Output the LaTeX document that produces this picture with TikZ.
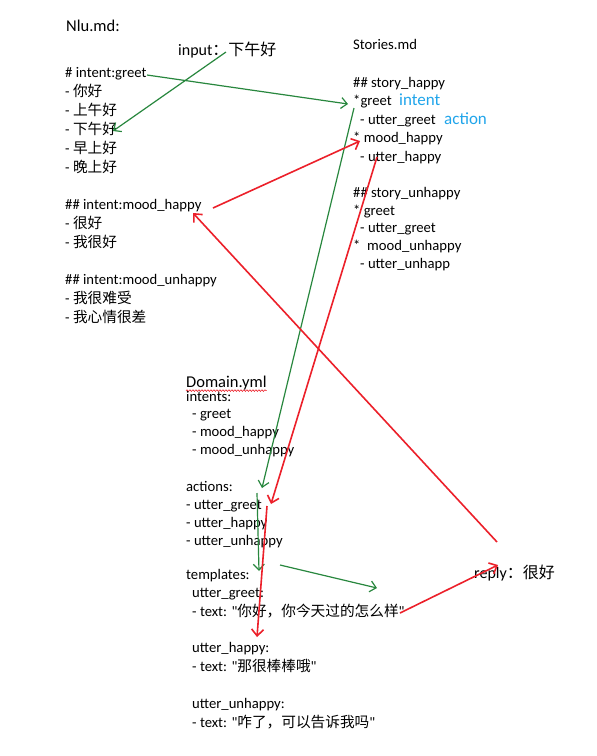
\documentclass[tikz,border=0pt]{standalone}
\usepackage{fontspec}
\setmainfont{Carlito}
\newfontfamily\lat{Carlito}
\newfontfamily\cjk{Noto Sans CJK SC}
\usetikzlibrary{arrows.meta,decorations.pathmorphing}
\newcommand\zh[1]{{\cjk #1}}
\definecolor{arrgreen}{RGB}{40,135,62}
\definecolor{arrred}{RGB}{236,32,42}
\definecolor{tagblue}{RGB}{32,165,235}
\tikzset{
  txtline/.style={anchor=base west, inner sep=0pt, font=\lat\fontsize{14.67}{18}\selectfont},
  heading/.style={anchor=base west, inner sep=0pt, font=\lat\fontsize{16.5}{20}\selectfont},
  tag/.style={anchor=base west, inner sep=0pt, text=tagblue, font=\lat\fontsize{17}{20}\selectfont},
  garrow/.style={draw=arrgreen, line width=1.2pt, -{Straight Barb[length=6pt,width=11pt]}},
  rarrow/.style={draw=arrred, line width=1.6pt, -{Straight Barb[length=6.5pt,width=12pt]}},
  spell/.style={draw=arrred, line width=0.6pt, decorate,
    decoration={snake, amplitude=0.8pt, segment length=3pt}}
}
\begin{document}
\begin{tikzpicture}[x=1pt,y=-1pt]
\fill[white] (0,0) rectangle (597,756);
\useasboundingbox (0,0) rectangle (597,756);

% ---- Nlu.md ----
\node[heading] (nlutitle) at (66,31) {Nlu.md:};
\node[heading, font=\lat\fontsize{16}{20}\selectfont] (input) at (178,55) {input\zh{：下午好}};
\foreach \t/\yy [count=\i] in {
  {\# intent:greet}/77, {- \zh{你好}}/96, {- \zh{上午好}}/115, {- \zh{下午好}}/134,
  {- \zh{早上好}}/153, {- \zh{晚上好}}/172,
  {\#\# intent:mood\_happy}/209, {- \zh{很好}}/228, {- \zh{我很好}}/247,
  {\#\# intent:mood\_unhappy}/284, {- \zh{我很难受}}/303, {- \zh{我心情很差}}/322}
  \node[txtline] (nlu\i) at (65,\yy) {\t};

% ---- Stories.md ----
\node[txtline] (sttitle) at (353,49) {Stories.md};
\foreach \t/\xx/\yy [count=\i] in {
  {\#\# story\_happy}/353/87, {*greet}/353/105.5, {- utter\_greet}/360/124,
  {* mood\_happy}/353/142.5, {- utter\_happy}/360/161,
  {\#\# story\_unhappy}/353/197, {* greet}/353/215, {- utter\_greet}/360/232.5,
  {*\ \ mood\_unhappy}/353/250.5, {- utter\_unhapp}/360/268.5}
  \node[txtline] (st\i) at (\xx,\yy) {\t};
\node[tag] (intenttag) at (399,105.5) {intent};
\node[tag] (actiontag) at (444,124) {action};

% ---- Domain.yml ----
\node[heading] (dmtitle) at (186,387) {Domain.yml};
\draw[spell] ([yshift=-3.6pt]dmtitle.base west) -- ([yshift=-3.6pt]dmtitle.base east);
\foreach \t/\xx/\yy [count=\i] in {
  {intents:}/186/401, {- greet}/192/418.5, {- mood\_happy}/192/436.5,
  {- mood\_unhappy}/192/454.5,
  {actions:}/186/491, {- utter\_greet}/186/509, {- utter\_happy}/186/527,
  {- utter\_unhappy}/186/545,
  {templates:}/186/579.5, {utter\_greet:}/192/597.5,
  {- text: "\zh{你好，你今天过的怎么样}"}/192/616,
  {utter\_happy:}/192/652.5, {- text: "\zh{那很棒棒哦}"}/192/671,
  {utter\_unhappy:}/192/708.5, {- text: "\zh{咋了，可以告诉我吗}"}/192/727}
  \node[txtline] (dm\i) at (\xx,\yy) {\t};

% ---- reply ----
\node[heading, font=\lat\fontsize{16}{20}\selectfont] (reply) at (474,578) {reply\zh{：很好}};

% ---- connector end points ----
\coordinate (inputFoot) at (226,52);
\coordinate (sampleAfternoon) at (113,131);
\coordinate (greetIntentEnd) at (147,75);
\coordinate (storyGreet) at (348,104);
\coordinate (storyGreetFoot) at (354,108);
\coordinate (actionGreet) at (262,488);
\coordinate (actionGreetFoot) at (257,493);
\coordinate (templGreet) at (259,571);
\coordinate (templGreetFoot) at (280,565);
\coordinate (templGreetText) at (377,588);
\coordinate (happyIntentEnd) at (213,208);
\coordinate (storyMood) at (360,141);
\coordinate (storyUtterHappy) at (377,157);
\coordinate (actionHappy) at (271,504);
\coordinate (actionHappyFoot) at (267,506);
\coordinate (templHappy) at (257,637);
\coordinate (greetTextEnd) at (400,613);
\coordinate (replyIn) at (498,565);
\coordinate (replyOut) at (497,542);
\coordinate (happyIntentIn) at (193,213);

% ---- green connectors ----
\draw[garrow] (inputFoot) -- (sampleAfternoon);
\draw[garrow] (greetIntentEnd) -- (storyGreet);
\draw[garrow] (storyGreetFoot) -- (actionGreet);
\draw[garrow] (actionGreetFoot) -- (templGreet);
\draw[garrow] (templGreetFoot) -- (templGreetText);

% ---- red connectors ----
\draw[rarrow] (happyIntentEnd) -- (storyMood);
\draw[rarrow] (storyUtterHappy) -- (actionHappy);
\draw[rarrow] (actionHappyFoot) -- (templHappy);
\draw[rarrow] (greetTextEnd) -- (replyIn);
\draw[rarrow] (replyOut) -- (happyIntentIn);
\end{tikzpicture}
\end{document}
